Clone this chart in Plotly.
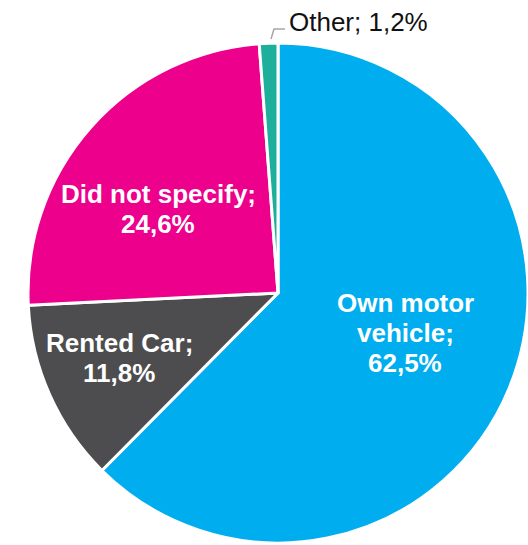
import textwrap
import plotly.graph_objects as go

# Share of respondents by mode of transport (%)
categories = ["Own motor vehicle", "Rented Car", "Did not specify", "Other"]
shares = [62.5, 11.8, 24.6, 1.2]
colors = ["#00AEEF", "#4D4D4F", "#EC008C", "#1DAF9C"]

W, H = 528, 545


def fx(px):
    return px / W


def fy(py):
    return 1 - py / H


def pct(v):
    return f"{v:.1f}".replace(".", ",") + "%"


fig = go.Figure(
    go.Pie(
        labels=categories,
        values=shares,
        sort=False,
        direction="clockwise",
        rotation=0,
        marker=dict(colors=colors, line=dict(color="white", width=3)),
        textinfo="none",
        hoverinfo="skip",
        showlegend=False,
        domain=dict(x=[fx(28), 1.0], y=[fy(293) - 250 / H, fy(293) + 250 / H]),
    )
)

# Inside labels: (line wrap width, centre x, first line middle y) in pixels
inside = {
    "Own motor vehicle": (10, 405, 303),
    "Rented Car": (16, 119, 343),
    "Did not specify": (20, 158, 194),
}
LINE_STEP = 30
annotations = []
for name, value in zip(categories, shares):
    if name not in inside:
        continue
    wrap, cx, cy = inside[name]
    lines = textwrap.wrap(f"{name};", width=wrap) + [pct(value)]
    for i, line in enumerate(lines):
        annotations.append(
            dict(
                text=line,
                x=fx(cx),
                y=fy(cy + i * LINE_STEP),
                xref="paper",
                yref="paper",
                xanchor="center",
                yanchor="middle",
                showarrow=False,
                font=dict(family="Liberation Sans, Arial", size=26, color="white",
                          weight="bold"),
            )
        )

# Outside label for the small slice
other_name, other_val = categories[3], shares[3]
annotations.append(
    dict(
        text=f"{other_name}; {pct(other_val)}",
        x=fx(287),
        y=fy(22),
        xref="paper",
        yref="paper",
        xanchor="left",
        yanchor="middle",
        showarrow=False,
        font=dict(family="Liberation Sans, Arial", size=26, color="#111111"),
    )
)

# Leader line from the small slice to its label
leader = [(271, 39), (274, 29), (285, 29)]
path = "M " + " L ".join(f"{fx(x)},{fy(y)}" for x, y in leader)
fig.update_layout(
    shapes=[dict(type="path", path=path, xref="paper", yref="paper",
                 line=dict(color="#A6A6A6", width=1.5))],
    annotations=annotations,
    width=W,
    height=H,
    margin=dict(l=0, r=0, t=0, b=0),
    paper_bgcolor="white",
    plot_bgcolor="white",
)

fig.write_html("out.html")
